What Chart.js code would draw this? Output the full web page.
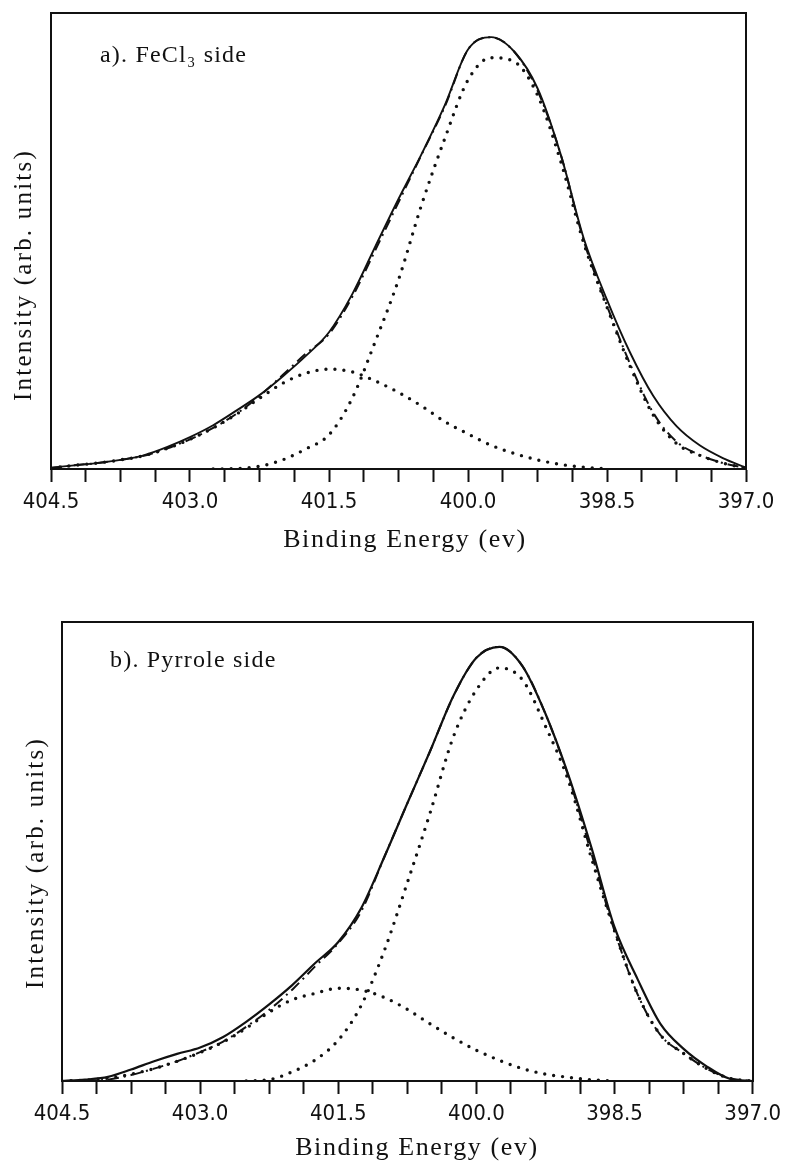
<!DOCTYPE html>
<html><head><meta charset="utf-8">
<script src="https://cdn.jsdelivr.net/npm/chart.js@4.4.1/dist/chart.umd.min.js"></script>
<style>html,body{margin:0;padding:0;background:#fff}canvas{display:block}</style>
</head><body>
<canvas id="ca" width="788" height="575"></canvas>
<canvas id="cb" width="788" height="587"></canvas>
<script>
// Binding energy grid (eV)
const energy = [404.5, 404.25, 404.0, 403.75, 403.5, 403.25, 403.0, 402.75, 402.5, 402.25, 402.0, 401.75, 401.5, 401.25, 401.0, 400.75, 400.5, 400.25, 400.0, 399.75, 399.5, 399.25, 399.0, 398.75, 398.5, 398.25, 398.0, 397.75, 397.5, 397.25, 397.0];

// a) FeCl3 side
const aMeasured = [0.3, 0.8, 1.3, 2.0, 3.0, 4.8, 7.0, 9.6, 12.8, 16.2, 20.3, 24.8, 30.0, 38.3, 48.8, 59.2, 69.1, 79.8, 92.0, 94.7, 91.5, 83.5, 69.0, 50.5, 37.1, 25.5, 16.0, 9.4, 5.2, 2.4, 0.3];
const aPeak1 = [null, null, null, null, null, null, null, 0, 0.1, 0.6, 2.0, 4.4, 7.5, 15.5, 28.0, 41.5, 58.0, 72.5, 85.3, 90.2, 89.3, 82.0, 67.5, 49.5, 35.5, 22.5, 11.8, 5.6, 3.0, 1.3, 0.2];
const aPeak2 = [0.2, 0.8, 1.3, 2.0, 2.9, 4.5, 6.5, 9.0, 12.0, 15.5, 18.8, 21.0, 21.9, 21.3, 19.3, 16.8, 13.8, 10.4, 7.7, 5.2, 3.4, 2.0, 1.0, 0.4, 0, null, null, null, null, null, null];
const aFit = [0.2, 0.8, 1.3, 2.0, 2.9, 4.5, 6.5, 9.0, 12.1, 16.0, 20.6, 25.3, 29.6, 37.7, 48.0, 58.5, 69.0, 79.5, 92.0, 94.7, 91.5, 83.0, 69.0, 50.0, 35.8, 23.0, 12.3, 6.0, 3.1, 1.3, 0.2];

// b) Pyrrole side
const bMeasured = [0, 0.3, 0.9, 2.5, 4.3, 5.9, 7.3, 9.6, 12.9, 16.7, 20.9, 25.7, 30.3, 37.7, 48.8, 60.5, 72.0, 83.9, 92.2, 94.6, 90.4, 80.0, 66.6, 50.8, 33.5, 22.2, 12.4, 7.0, 3.2, 0.5, 0];
const bPeak1 = [null, null, null, null, null, null, null, null, 0, 0.3, 2.0, 4.6, 8.9, 16.5, 28.4, 43.2, 58.6, 75.0, 85.2, 90.0, 87.4, 77.3, 65.4, 48.5, 32.7, 18.9, 10.0, 6.0, 2.7, 0.6, 0];
const bPeak2 = [0, 0.2, 0.6, 1.5, 2.7, 4.3, 6.2, 8.5, 11.5, 15.0, 17.7, 19.1, 20.2, 19.8, 18.2, 15.6, 12.4, 9.4, 6.7, 4.5, 2.7, 1.5, 0.8, 0.25, 0, null, null, null, null, null, null];
const bFit = [0, 0.1, 0.3, 1.3, 2.7, 4.3, 6.3, 8.6, 11.8, 15.5, 19.9, 25.0, 30.0, 37.0, 48.8, 60.5, 72.0, 83.8, 92.2, 94.6, 90.4, 80.0, 66.3, 49.5, 32.7, 18.9, 10.0, 6.0, 2.7, 0.6, 0];

// Axis ticks
const xMin = 397.0, xMax = 404.5, xStep = 0.375;
const tickValues = [404.5, 403.0, 401.5, 400.0, 398.5, 397.0];
const tickLabels = ['404.5', '403.0', '401.5', '400.0', '398.5', '397.0'];

const xTitle = 'Binding Energy (ev)';
const yTitle = 'Intensity (arb. units)';
const panelA = 'a). FeCl\u2083 side';
const panelB = 'b). Pyrrole side';

const INK = '#111';

const textPlugin = {
  id: 'paperTexts',
  afterDraw(chart, args, opts) {
    const ctx = chart.ctx;
    for (const t of opts.items || []) {
      ctx.save();
      ctx.font = t.font;
      ctx.fillStyle = INK;
      ctx.letterSpacing = (t.spacing || 0) + 'px';
      ctx.textAlign = t.align || 'left';
      ctx.textBaseline = 'alphabetic';
      ctx.translate(t.x, t.y);
      if (t.rotate) ctx.rotate(-Math.PI / 2);
      ctx.fillText(t.text, 0, 0);
      ctx.restore();
    }
  }
};

function pts(vals) { return energy.map((e, i) => ({x: e, y: vals[i]})); }

function makeChart(id, series, lay, texts) {
  const [meas, p1, p2, fit] = series;
  const dotted = {borderDash: [0, 9], borderCapStyle: 'round', borderWidth: 3.4};
  return new Chart(document.getElementById(id), {
    type: 'line',
    data: {
      datasets: [
        {label: 'measured', data: pts(meas), borderColor: INK, borderWidth: lay.solidW, pointRadius: 0, cubicInterpolationMode: 'monotone', fill: false},
        {label: 'fit', data: pts(fit), borderColor: INK, borderWidth: 2, borderDash: [11, 5, 2, 5], pointRadius: 0, cubicInterpolationMode: 'monotone', fill: false},
        Object.assign({label: 'peak 1', data: pts(p1), borderColor: INK, pointRadius: 0, cubicInterpolationMode: 'monotone', fill: false, spanGaps: false}, dotted),
        Object.assign({label: 'peak 2', data: pts(p2), borderColor: INK, pointRadius: 0, cubicInterpolationMode: 'monotone', fill: false, spanGaps: false}, dotted)
      ]
    },
    options: {
      responsive: false,
      animation: false,
      events: [],
      layout: {padding: {left: lay.left, right: lay.right, top: lay.top, bottom: 0}},
      plugins: {legend: {display: false}, tooltip: {enabled: false}, title: {display: false},
        paperTexts: {items: texts}},
      scales: {
        x: {
          type: 'linear', position: 'bottom', min: xMin, max: xMax, reverse: true,
          afterFit: s => { s.height = lay.xH; },
          ticks: {
            stepSize: xStep, autoSkip: false, maxRotation: 0, padding: lay.tickPad, color: INK,
            font: {family: '"Liberation Sans Narrow", "DejaVu Sans Condensed", "Liberation Sans", Arial, sans-serif', size: 22},
            callback: v => { const i = tickValues.findIndex(t => Math.abs(t - v) < 1e-6); return i >= 0 ? tickLabels[i] : ''; }
          },
          grid: {drawOnChartArea: false, drawTicks: true, tickLength: 13, tickWidth: 2, tickColor: INK, color: INK},
          border: {display: true, color: INK, width: 2}
        },
        y: {
          type: 'linear', position: 'left', min: 0, max: 100,
          afterFit: s => { s.width = 0; },
          ticks: {display: false}, grid: {display: false},
          border: {display: true, color: INK, width: 2}
        },
        x2: {
          type: 'linear', position: 'top', min: xMin, max: xMax, reverse: true,
          afterFit: s => { s.height = 0; },
          ticks: {display: false}, grid: {display: false},
          border: {display: true, color: INK, width: 2}
        },
        y2: {
          type: 'linear', position: 'right', min: 0, max: 100,
          afterFit: s => { s.width = 0; },
          ticks: {display: false}, grid: {display: false},
          border: {display: true, color: INK, width: 2}
        }
      }
    },
    plugins: [textPlugin]
  });
}

const SERIF = '"Liberation Serif", "Times New Roman", serif';

makeChart('ca', [aMeasured, aPeak1, aPeak2, aFit],
  {left: 51, right: 42, top: 13, xH: 106, tickPad: 7, solidW: 1.9},
  [
    {text: panelA, x: 100, y: 62, font: '24px ' + SERIF, spacing: 1.2},
    {text: xTitle, x: 405, y: 547, font: '26px ' + SERIF, spacing: 1.6, align: 'center'},
    {text: yTitle, x: 31, y: 275, font: '25px ' + SERIF, spacing: 2.2, align: 'center', rotate: true}
  ]);

makeChart('cb', [bMeasured, bPeak1, bPeak2, bFit],
  {left: 62, right: 30, top: 47, xH: 81, tickPad: 7, solidW: 2.2},
  [
    {text: panelB, x: 110, y: 92, font: '24px ' + SERIF, spacing: 1.2},
    {text: xTitle, x: 417, y: 580, font: '26px ' + SERIF, spacing: 1.6, align: 'center'},
    {text: yTitle, x: 43, y: 288, font: '25px ' + SERIF, spacing: 2.2, align: 'center', rotate: true}
  ]);
</script>
</body></html>
